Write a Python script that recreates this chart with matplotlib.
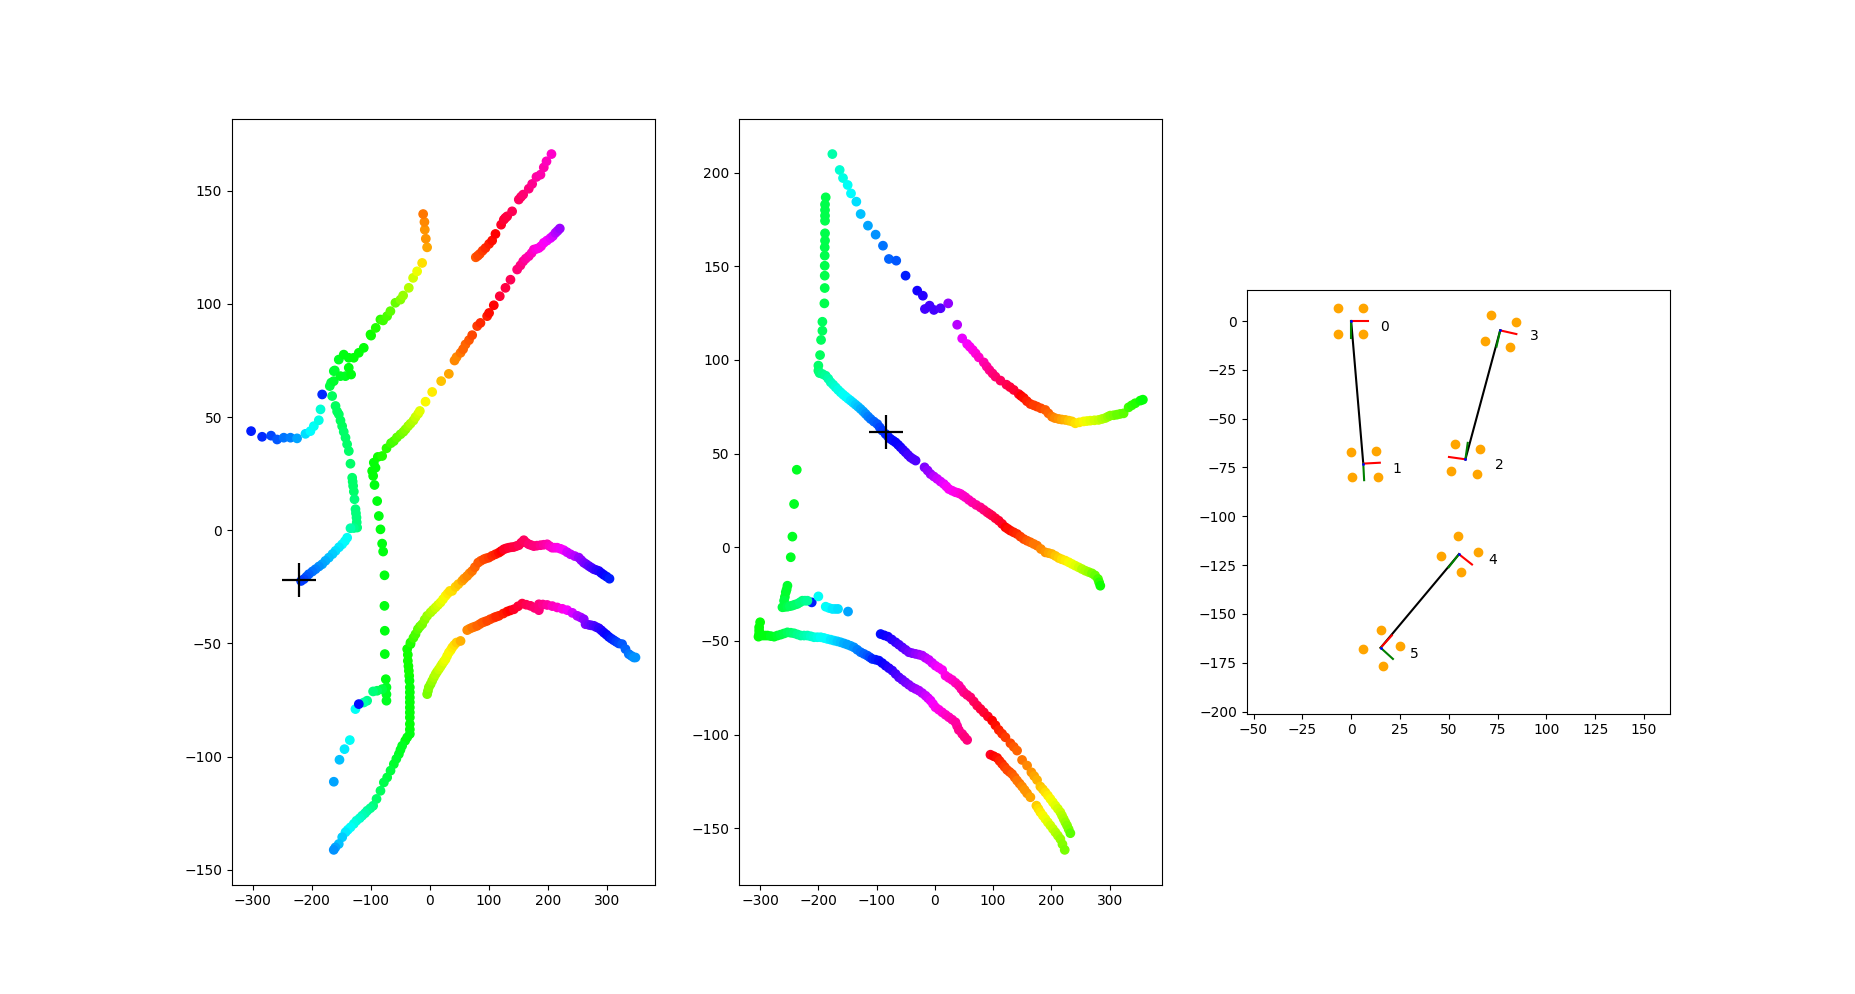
import numpy as np
import matplotlib
matplotlib.use("Agg")
import matplotlib.pyplot as plt

# ---- left panel: tracks as (x, y, hue) ----
LEFT_A = [(-302.8, 43.8, 0.66), (-284.2, 41.3, 0.65), (-269, 41.8, 0.63), (-258.8, 40.1, 0.62),
          (-247.5, 40.9, 0.6), (-236.2, 40.9, 0.59), (-225, 40.6, 0.57), (-210.8, 42.6, 0.53),
          (-202.4, 43.8, 0.51), (-196.6, 46, 0.5), (-188.2, 48.6, 0.49), (-185.3, 53.4, 0.48),
          (-182.5, 60.0, 0.65)]
LEFT_B = [(-165.6, 59.3, 0.4), (-159.9, 54.9, 0.4), (-157.2, 52.5, 0.4), (-154.3, 51.2, 0.4),
          (-151.5, 48.5, 0.4), (-148.7, 46, 0.4), (-146, 43.5, 0.41), (-143, 40.9, 0.41),
          (-140.3, 38, 0.41), (-137.4, 35, 0.41), (-134.6, 29.4, 0.41), (-131.7, 23.2, 0.41),
          (-130.9, 21.5, 0.41), (-130.1, 19.6, 0.41), (-128.9, 17.1, 0.41), (-127.8, 13.7, 0.42),
          (-126.1, 9.3, 0.42), (-125.3, 7.5, 0.42), (-124.4, 5.6, 0.42), (-124, 3.5, 0.42),
          (-123.3, 1.2, 0.42), (-129, 1.0, 0.43), (-134.6, 0.9, 0.45), (-140.2, -3.3, 0.5),
          (-144, -4.8, 0.5), (-148.7, -6.2, 0.51), (-154, -7.5, 0.52), (-159.9, -9.1, 0.53),
          (-165, -10.5, 0.54), (-171.2, -12.1, 0.55), (-177, -13.5, 0.56), (-182.5, -15, 0.57),
          (-188, -16, 0.58), (-193.8, -17.2, 0.59), (-199, -18.2, 0.6), (-205.1, -19.4, 0.61),
          (-209, -20.5, 0.62), (-213.6, -21.6, 0.63), (-218.2, -22.4, 0.64)]
LEFT_C = [(-169.6, 63.7, 0.38), (-167.3, 65.2, 0.38), (-162.9, 65.9, 0.37), (-162.8, 70.3, 0.37),
          (-161.2, 70.6, 0.37), (-151.6, 68.1, 0.36), (-143.1, 68.1, 0.36), (-133.5, 68.8, 0.35),
          (-137.5, 71.8, 0.35), (-154.4, 75.4, 0.36), (-146, 77.6, 0.35), (-137.5, 76.2, 0.35),
          (-129, 76.2, 0.34), (-120.5, 78.4, 0.34), (-112.1, 80.6, 0.34), (-100.7, 86.5, 0.33),
          (-99.7, 86, 0.33), (-91.8, 89.4, 0.32), (-83.9, 93.1, 0.31), (-79.4, 92.7, 0.3),
          (-72.6, 94.6, 0.29), (-67, 96.8, 0.28), (-58.5, 100.5, 0.27), (-50, 101.9, 0.25),
          (-45.5, 103.7, 0.24), (-35.9, 107.1, 0.22), (-28.6, 111.5, 0.2), (-21.8, 114.4, 0.18),
          (-13.3, 118.1, 0.15), (-4.9, 125, 0.11), (-7.1, 128.8, 0.1), (-8.8, 132.8, 0.1),
          (-9.4, 136.2, 0.09), (-11.6, 139.7, 0.08)]
LEFT_D = [(-95.1, 29.9, 0.34), (-97.9, 26.2, 0.34), (-92.2, 27.6, 0.34), (-96.2, 24, 0.34),
          (-93.9, 20, 0.35), (-89.4, 12.9, 0.35), (-86.6, 6.3, 0.35), (-83.8, 0.4, 0.35),
          (-81, -5.9, 0.35), (-79.3, -9.4, 0.35), (-77, -19.9, 0.35), (-77.1, -33.4, 0.35),
          (-76.5, -44.4, 0.35), (-76.5, -54.7, 0.35), (-74.8, -65.8, 0.35), (-73.7, -69.4, 0.36),
          (-73.7, -72.5, 0.36), (-73.7, -75.3, 0.36), (-81, -70.2, 0.38), (-89.5, -70.9, 0.4),
          (-96.3, -71.2, 0.42), (-106.4, -75.3, 0.43), (-112.1, -76.1, 0.45),
          (-126.2, -79, 0.5), (-120.5, -76.8, 0.67)]
LEFT_E = [(-88.3, 32.4, 0.33), (-81, 32.8, 0.32), (-73.6, 36.2, 0.31), (-66, 38.5, 0.3),
          (-61.2, 39.4, 0.29), (-56, 41, 0.28), (-49.9, 42.4, 0.27), (-45, 43.5, 0.26),
          (-41.4, 44.6, 0.25), (-37, 46, 0.24), (-33, 47.1, 0.23), (-28, 48.5, 0.22),
          (-24.5, 50, 0.21), (-20, 51.5, 0.2), (-17.2, 52.7, 0.19), (-7.6, 56.8, 0.17),
          (3.7, 61.1, 0.16), (18.9, 65.9, 0.13), (31.9, 69.1, 0.11), (41.5, 75, 0.09),
          (45, 76.5, 0.09), (51.7, 78.4, 0.08), (56, 80, 0.07), (60.1, 82.1, 0.07),
          (66, 84, 0.06), (71.4, 86.2, 0.05), (79.8, 90.2, 0.04), (85.4, 91.6, 0.03),
          (96.7, 94.6, 0.02), (100, 96, 0.01), (108, 99.4, 0.0), (118.1, 103.4, 0.98),
          (127.7, 107.1, 0.97), (136.2, 110.7, 0.96), (147.5, 115.2, 0.94), (153, 117, 0.93),
          (157.7, 118.8, 0.92), (162, 120, 0.91), (167.2, 121.1, 0.9), (172, 122.5, 0.89),
          (175.7, 124, 0.88), (180, 124.3, 0.87), (184.2, 124.7, 0.86), (188, 125.5, 0.86),
          (192.6, 127, 0.85), (198, 128, 0.84), (203.9, 129.1, 0.83), (208, 130, 0.82),
          (212.4, 131.4, 0.8), (216, 132.3, 0.79), (219.7, 133.3, 0.78)]
LEFT_F = [(77.5, 120.6, 0.06), (81, 121.3, 0.05), (84.3, 122.1, 0.05), (89, 123.5, 0.04),
          (93.9, 124.7, 0.03), (100, 126.5, 0.02), (105.2, 128, 0.01), (110.8, 130.9, 0.0),
          (120.4, 135, 0.99), (124.9, 137.2, 0.98), (127.5, 138, 0.98), (130.6, 138.7, 0.97),
          (139, 140.9, 0.96), (150.3, 146.1, 0.95), (154, 147.3, 0.95), (157.7, 148.3, 0.94),
          (167.2, 150.9, 0.93), (172.9, 153, 0.92), (180.2, 156.1, 0.91), (187, 157.1, 0.9),
          (192.6, 160.3, 0.9), (197.2, 163, 0.89), (205.6, 166.2, 0.88)]
LEFT_G = [(-33, -50.3, 0.33), (-38.6, -52.5, 0.33), (-37.5, -55, 0.33), (-37.5, -57.7, 0.33),
          (-36.5, -60, 0.33), (-35.8, -62.1, 0.33), (-35.2, -64.3, 0.33), (-34.7, -66.5, 0.34),
          (-34.1, -69.4, 0.34), (-34.1, -71.6, 0.34), (-34.1, -73.9, 0.34), (-34.1, -76, 0.34),
          (-34.1, -78.3, 0.34), (-34.1, -80.5, 0.34), (-34.1, -82.7, 0.34), (-34.1, -85.6, 0.34),
          (-34.1, -88, 0.34), (-34.1, -90, 0.35), (-38.6, -91.5, 0.35), (-42, -93, 0.35),
          (-47.1, -95.2, 0.36), (-50, -97, 0.36), (-52.7, -98.9, 0.36), (-57, -101, 0.37),
          (-61.2, -103.3, 0.37), (-66.8, -106.2, 0.38), (-72.5, -109.2, 0.38), (-78.1, -111.4, 0.39),
          (-83.8, -115.1, 0.4), (-90.5, -118.7, 0.41), (-96.2, -121.7, 0.42), (-101, -122.8, 0.43),
          (-106.3, -123.9, 0.44), (-110, -125, 0.45), (-114.8, -126.1, 0.46), (-119, -127.2, 0.47),
          (-124.4, -128.3, 0.48), (-129, -129.7, 0.49), (-134.5, -131.2, 0.5), (-139, -132.3, 0.51),
          (-143, -133.4, 0.52), (-148.6, -135.6, 0.54), (-154.4, -138.6, 0.55), (-160.1, -140.1, 0.57),
          (-162.9, -141.2, 0.58)]
LEFT_DOTS = [(-135.7, -92.7, 0.5), (-144.7, -96.7, 0.52), (-153.2, -101.4, 0.55), (-162.8, -111.1, 0.57)]
LEFT_H = [(-33, -49.6, 0.32), (-28, -47.5, 0.3), (-24.5, -45.9, 0.29), (-20.5, -43.7, 0.28),
          (-17, -42.5, 0.27), (-13.2, -41.5, 0.26), (-9, -39.5, 0.25), (-4.8, -37.8, 0.24),
          (0.9, -36.3, 0.23), (5, -35.2, 0.22), (9.4, -34.1, 0.21), (13.5, -33, 0.2),
          (17.8, -31.9, 0.19), (22, -30.5, 0.18), (26.3, -29, 0.17), (30, -27.9, 0.16),
          (33.6, -26.8, 0.15), (37.5, -26.8, 0.15), (43.2, -25, 0.14), (48, -23.8, 0.13),
          (54.5, -22.3, 0.11), (58, -21.3, 0.1), (62.9, -20.2, 0.09), (67, -19, 0.09),
          (71.3, -18, 0.08), (76, -16.3, 0.07), (81.5, -14.3, 0.06), (86, -13.5, 0.06),
          (91.1, -12.8, 0.05), (95, -12.4, 0.05), (99.5, -12.1, 0.04), (105, -11.3, 0.03),
          (110.8, -10.6, 0.02), (116.5, -9.9, 0.01), (120.5, -9.2, 0.0), (124.9, -8.4, 0.99),
          (129, -8, 0.99), (133.4, -7.7, 0.98), (137.5, -7.5, 0.98), (141.8, -7.4, 0.97),
          (146, -7, 0.97), (150.3, -6.6, 0.96), (154.5, -5.5, 0.96), (158.8, -4.4, 0.95),
          (163, -5.5, 0.95), (167.2, -6.2, 0.94), (171.5, -6.6, 0.94), (175.7, -7, 0.93),
          (181, -6.8, 0.93), (187, -6.6, 0.92), (192.6, -6.4, 0.91), (198.3, -6.2, 0.9),
          (202.5, -7, 0.89), (206.7, -7.7, 0.88), (211, -7.7, 0.87), (215.2, -7.7, 0.86),
          (221, -8.2, 0.85), (226.5, -8.8, 0.84), (232, -9.7, 0.82), (237.8, -10.6, 0.81),
          (245, -11.4, 0.8), (251.9, -12.1, 0.78), (256, -13.2, 0.77), (260.3, -14.3, 0.76),
          (264.5, -15, 0.75), (268.8, -15.8, 0.74), (273, -16.5, 0.73), (277.3, -17.2, 0.72),
          (281.5, -17.6, 0.71), (285.8, -18, 0.7), (290, -18.9, 0.69), (294.2, -19.7, 0.68),
          (299, -20.5, 0.67), (303.8, -21.4, 0.66)]
LEFT_I = [(-4.8, -72.4, 0.26), (-3.5, -71, 0.26), (-2, -69.4, 0.25), (1, -68, 0.25),
          (3.7, -66.5, 0.24), (6.5, -65, 0.23), (9.4, -63.6, 0.22), (12, -62.5, 0.22),
          (15, -61.4, 0.21), (18, -60.2, 0.2), (20.6, -59.1, 0.2), (23.5, -58, 0.19),
          (26.3, -57, 0.18), (29, -55.5, 0.18), (32, -54, 0.17), (35, -53, 0.17),
          (37.6, -51.8, 0.16), (41, -50.7, 0.15), (44.9, -49.6, 0.14), (51.7, -48.9, 0.12),
          (63, -44.1, 0.09), (67, -43.5, 0.09), (71.4, -43, 0.08), (75.5, -42.6, 0.08),
          (79.9, -42.2, 0.07), (84, -41.5, 0.07), (88.4, -40.8, 0.06), (92.5, -40.4, 0.06),
          (96.8, -40, 0.05), (102, -39.3, 0.05), (108.1, -38.6, 0.04), (112, -38.2, 0.03),
          (116.6, -37.8, 0.03), (124, -36.8, 0.02), (130.7, -35.9, 0.01), (136, -35.4, 0.0),
          (142, -34.9, 0.99), (149, -33.6, 0.98), (156.1, -32.4, 0.97), (163, -32.9, 0.96),
          (170.2, -33.4, 0.95), (177, -34.3, 0.94), (184.3, -35.3, 0.93), (184.3, -32.7, 0.93),
          (191, -32.8, 0.92), (198.4, -33, 0.91), (207, -33.5, 0.89), (215.3, -34.1, 0.88),
          (224, -34.7, 0.86), (232.3, -35.3, 0.84), (241, -36.5, 0.82), (249.2, -37.8, 0.8),
          (255, -38.5, 0.79), (260.3, -39.3, 0.77), (263.3, -41.5, 0.76), (268.8, -41.8, 0.75),
          (273, -42, 0.74), (277.3, -42.2, 0.73), (281.5, -42.8, 0.72), (285.8, -43.3, 0.71),
          (290, -44.2, 0.7), (294.2, -45.2, 0.69), (298.5, -46.1, 0.68), (302.7, -47.1, 0.67),
          (307, -47.9, 0.66), (311.1, -48.6, 0.65), (315.3, -49.3, 0.64), (319.6, -50, 0.63),
          (325.2, -50.3, 0.62), (330.9, -52.5, 0.61), (336.5, -54.7, 0.6), (341, -55.5, 0.59),
          (345, -56.2, 0.58), (347.8, -56.2, 0.58)]
LEFT_CROSS = (-221, -21.9)

# ---- middle panel ----
MID_1 = [(-176, 209.9, 0.45), (-163.4, 201.4, 0.48), (-157.7, 197.1, 0.49), (-149.7, 193.4, 0.5),
         (-144, 188.9, 0.51), (-134.8, 184.5, 0.53), (-127.4, 177.9, 0.55), (-114.9, 171.7, 0.57),
         (-101.7, 166.9, 0.58), (-89.1, 161, 0.6), (-78.9, 153.9, 0.61), (-66.3, 153, 0.62),
         (-50.3, 145, 0.66), (-30.3, 137, 0.69), (-20.6, 134.3, 0.7), (-17.1, 127.2, 0.72),
         (-9.1, 129, 0.72), (-1.7, 126.7, 0.72), (9.7, 127.6, 0.73), (22.9, 130.2, 0.77),
         (38.3, 118.8, 0.8), (46.9, 111.5, 0.83), (55.4, 108.5, 0.84), (60, 107, 0.85),
         (65.1, 105.3, 0.86), (70, 103.5, 0.87), (75.4, 101.4, 0.88), (84, 98.7, 0.9),
         (89, 96.5, 0.91), (93.7, 94.6, 0.92), (99, 92.8, 0.93), (104, 91.1, 0.94),
         (112.6, 89, 0.95), (122.9, 86.8, 0.96), (129, 85.5, 0.97), (135.4, 84, 0.98),
         (144, 81.8, 0.99), (148, 80.8, 0.0), (152.6, 79.7, 0.01), (158, 78, 0.02),
         (164, 76.5, 0.03), (170, 75.8, 0.04), (175.4, 75.1, 0.04), (182, 74.2, 0.05),
         (189.7, 73.3, 0.06), (195, 71.5, 0.07), (201.1, 69.7, 0.08), (206, 69, 0.09),
         (212.6, 68.5, 0.1), (218, 68.2, 0.11), (224, 68, 0.12), (230, 67.6, 0.13),
         (235.4, 67.2, 0.14), (241.1, 66.2, 0.15), (248, 66.7, 0.16), (255.4, 67.2, 0.17),
         (261, 67.4, 0.18), (266.9, 67.6, 0.19), (274, 67.8, 0.2), (281.1, 68, 0.21),
         (287, 68.5, 0.22), (292.6, 69, 0.23), (297, 69.7, 0.24), (301.1, 70.3, 0.25),
         (307, 70.5, 0.26), (312.6, 70.8, 0.27), (318, 71.2, 0.27), (324, 71.5, 0.28),
         (332.6, 74.7, 0.3), (338, 75.8, 0.31), (344, 76.9, 0.32), (352.6, 78.3, 0.33),
         (357.1, 78.8, 0.34)]
MID_2 = [(-187.4, 186.8, 0.39), (-188.6, 183, 0.39), (-188.6, 180, 0.39), (-188.6, 177, 0.39),
         (-188.6, 174.3, 0.39), (-188.6, 167.6, 0.39), (-188.6, 163.7, 0.39), (-189.1, 160.1, 0.39),
         (-189.1, 155.7, 0.39), (-189.1, 150.3, 0.39), (-189.1, 145, 0.39), (-189.1, 138.4, 0.39),
         (-189.7, 130.2, 0.39), (-193.1, 120.4, 0.4), (-193.1, 115.6, 0.4), (-195.4, 110.7, 0.4),
         (-197.1, 102.6, 0.4), (-200, 97, 0.41), (-200, 94.3, 0.41), (-198, 93, 0.42),
         (-193, 92.5, 0.43), (-187.4, 91.6, 0.44), (-183, 90, 0.45), (-178.8, 88.1, 0.46),
         (-174.5, 86.8, 0.47), (-170.3, 85.4, 0.48), (-166, 84, 0.49), (-161.7, 82.7, 0.49),
         (-157.4, 81.5, 0.5), (-153.1, 80.4, 0.5), (-148.8, 79.3, 0.51), (-144.6, 78.3, 0.52),
         (-140.3, 77.2, 0.53), (-136, 76.1, 0.54), (-131.7, 75, 0.55), (-127.4, 73.8, 0.56),
         (-123, 72.5, 0.57), (-118.9, 71.2, 0.58), (-114.6, 69.8, 0.59), (-110.3, 68.5, 0.6),
         (-104.6, 67.1, 0.61), (-98.9, 65.8, 0.62), (-94.6, 64, 0.63), (-90.3, 62.3, 0.64),
         (-84.6, 60.5, 0.65), (-80.3, 59.1, 0.66), (-76, 57.8, 0.67), (-71.7, 56.9, 0.67),
         (-67.4, 56, 0.68), (-63, 54.7, 0.68), (-58.9, 53.4, 0.69), (-54.6, 52, 0.7),
         (-50.3, 50.7, 0.71), (-46, 49.3, 0.72), (-41.7, 48, 0.72), (-37.4, 47.1, 0.73),
         (-33.1, 46.3, 0.73), (-17.7, 42.7, 0.76), (-12.5, 41, 0.77), (-7.4, 39.1, 0.78),
         (-1.7, 37.8, 0.8), (4, 36.5, 0.81), (9.7, 35.1, 0.82), (15.4, 33.8, 0.83),
         (19.7, 32.5, 0.84), (24, 31.1, 0.85), (29.7, 30.2, 0.85), (35.4, 29.4, 0.86),
         (40, 29, 0.86), (44, 28.5, 0.87), (48.3, 27.6, 0.88), (52.6, 26.7, 0.88),
         (58.3, 25.3, 0.89), (64, 24, 0.9), (71, 22.6, 0.91), (78.3, 21.3, 0.92),
         (84, 20, 0.93), (89.7, 18.7, 0.94), (94, 17.8, 0.95), (98.3, 16.9, 0.96),
         (104, 15.5, 0.97), (109.7, 14.2, 0.98), (115.4, 12.5, 0.99), (121.1, 10.7, 0.0),
         (125.4, 9.8, 0.01), (129.7, 8.9, 0.01), (135.4, 8, 0.02), (141.1, 7.1, 0.03),
         (146.8, 5.7, 0.04), (152.6, 4.4, 0.05), (158.3, 3.5, 0.06), (164, 2.7, 0.07),
         (169.7, 1.8, 0.08), (175.4, 0.9, 0.08), (182, -0.9, 0.09), (189.7, -2.7, 0.1),
         (195.4, -3.1, 0.11), (201.1, -3.6, 0.12), (207, -4.6, 0.13), (212.6, -5.7, 0.14),
         (218, -6.4, 0.15), (224, -7.1, 0.16), (230, -8, 0.17), (235.4, -8.9, 0.18),
         (241, -9.8, 0.19), (246.9, -10.7, 0.2), (252.6, -11.6, 0.22), (258.3, -12.5, 0.23),
         (264, -13.2, 0.24), (269.7, -13.9, 0.26), (275, -15, 0.27), (280, -16.9, 0.29),
         (282, -18.7, 0.31), (284, -20.5, 0.33)]
MID_3 = [(-237.1, 41.4, 0.36), (-241.7, 23.1, 0.36), (-244.6, 5.7, 0.36), (-247.4, -5.3, 0.36),
         (-253.1, -20.5, 0.37), (-254.5, -22.5, 0.37), (-256, -24, 0.37), (-257.5, -26.5, 0.37),
         (-258.9, -28.5, 0.38), (-261.7, -32, 0.38), (-211.4, -29.4, 0.66), (-258, -31.8, 0.38),
         (-253.1, -31.7, 0.39), (-248.8, -31.4, 0.4), (-244.6, -31.1, 0.4), (-240.3, -30.6, 0.41),
         (-236, -30.2, 0.41), (-231.7, -29.4, 0.42), (-227.4, -28.5, 0.42), (-223, -28.5, 0.43),
         (-218.8, -28.5, 0.44), (-200, -26.2, 0.5), (-187.4, -31.7, 0.5), (-181.7, -32.4, 0.51),
         (-176, -32.9, 0.52), (-171, -32.9, 0.52), (-166.3, -32.9, 0.53), (-149.1, -34.3, 0.57)]
MID_4 = [(-300, -40, 0.34), (-301.7, -42.7, 0.34), (-301.7, -44.5, 0.34), (-301.7, -46.3, 0.34),
         (-302.8, -47.7, 0.34), (-296, -47.1, 0.35), (-291.7, -47.1, 0.35), (-287.4, -47.1, 0.35),
         (-281.7, -47.4, 0.36), (-276, -47.7, 0.36), (-270.3, -47.1, 0.37), (-264.6, -46.6, 0.38),
         (-259, -46, 0.39), (-253.1, -45.4, 0.4), (-247.4, -45.6, 0.41), (-241.7, -45.9, 0.42),
         (-236, -46.5, 0.43), (-230.3, -47.1, 0.44), (-224.5, -47.1, 0.45), (-218.8, -47.1, 0.46),
         (-213, -47.5, 0.47), (-207.4, -48, 0.48), (-201.7, -48, 0.49), (-196, -48, 0.5),
         (-190.3, -48.4, 0.5), (-184.6, -48.9, 0.51), (-178.8, -49.3, 0.52), (-173.1, -49.8, 0.53),
         (-167.4, -50.2, 0.54), (-161.7, -50.7, 0.55), (-156, -51.3, 0.56), (-150.3, -51.9, 0.57),
         (-144.6, -52.6, 0.57), (-138.9, -53.4, 0.58), (-133.2, -54.7, 0.59), (-127.4, -56, 0.6),
         (-121.7, -56.9, 0.61), (-116, -57.8, 0.62), (-111.7, -58.7, 0.63), (-107.4, -59.6, 0.65),
         (-101.7, -60, 0.66), (-96, -60.5, 0.67), (-90.3, -61.8, 0.68), (-84.6, -63.2, 0.69),
         (-78.9, -64.5, 0.7), (-73.1, -65.8, 0.71), (-67.4, -67.6, 0.72), (-61.7, -69.4, 0.73),
         (-56, -70.7, 0.74), (-50.3, -72.1, 0.75), (-44.6, -73.4, 0.76), (-38.9, -74.7, 0.77),
         (-33.1, -75.6, 0.78), (-27.4, -76.5, 0.79), (-21.7, -77.8, 0.8), (-16, -79.2, 0.81),
         (-11.7, -80.5, 0.82), (-7.4, -81.8, 0.83), (-3.2, -83.6, 0.84), (1.1, -85.4, 0.85),
         (6.8, -86.7, 0.86), (12.6, -88.1, 0.87), (18.3, -89.4, 0.88), (24, -90.7, 0.89),
         (29.7, -92, 0.9), (35.4, -93.4, 0.91), (38.2, -95.4, 0.91), (41.1, -97.5, 0.92),
         (46.9, -99.6, 0.92), (51, -101.2, 0.93), (55.4, -102.8, 0.93)]
MID_5 = [(-93.1, -46.3, 0.67), (-86.9, -47, 0.68), (-80.6, -47.7, 0.69), (-74, -49.2, 0.7),
         (-67.4, -50.7, 0.71), (-61.7, -52, 0.72), (-56, -53.4, 0.73), (-50.3, -54.7, 0.74),
         (-44.6, -56, 0.75), (-38.9, -56.5, 0.76), (-33.1, -56.9, 0.77), (-27.4, -57.3, 0.78),
         (-21.7, -57.8, 0.79), (-16, -59, 0.8), (-10.3, -60.1, 0.81), (-4.6, -61.7, 0.82),
         (1.1, -63.2, 0.83), (6.8, -64.3, 0.84), (12.6, -65.5, 0.85), (18.3, -68.5, 0.86),
         (24, -69.7, 0.87), (29.7, -70.8, 0.88), (35.4, -72.3, 0.89), (41.1, -73.8, 0.9),
         (45.4, -75.6, 0.91), (49.7, -77.4, 0.92), (55.4, -78.8, 0.93), (61.1, -80.1, 0.94),
         (66.8, -82.3, 0.95), (72.6, -84.5, 0.96), (78.3, -86.3, 0.97), (84, -88.1, 0.98),
         (91, -90.3, 0.99), (98.3, -92.5, 0.0), (104, -95, 0.01), (109.7, -97.5, 0.02),
         (115.4, -99.5, 0.03), (121.1, -101.4, 0.04), (129.7, -104.6, 0.05), (135.4, -106.5, 0.06),
         (141.1, -108.5, 0.07), (149.7, -113.5, 0.08), (158.3, -116.5, 0.09), (165.7, -120.1, 0.1),
         (170.5, -122.1, 0.11), (175.4, -124.2, 0.12), (181.1, -127.7, 0.13), (185.4, -129.2, 0.14),
         (189.7, -130.8, 0.15), (194, -132.5, 0.16), (198.3, -134.3, 0.17), (202.6, -136.1, 0.18),
         (206.9, -137.9, 0.19), (211.2, -139.6, 0.2), (215.4, -141.4, 0.21), (218.3, -143.2, 0.22),
         (221.1, -145, 0.23), (224, -146.8, 0.24), (226.9, -148.5, 0.25), (229.7, -150.5, 0.26),
         (232.6, -152.6, 0.28)]
MID_6 = [(95.4, -110.7, 0.99), (101, -111.5, 0.0), (106.9, -112.4, 0.01), (111, -114, 0.02),
         (115.4, -115.6, 0.03), (119.7, -117.2, 0.04), (124, -118.8, 0.05), (128.3, -119.9, 0.05),
         (132.6, -121, 0.06), (137, -122.8, 0.07), (141.1, -124.5, 0.08), (145.4, -126.1, 0.08),
         (149.7, -127.7, 0.09), (154, -129.5, 0.1), (158.3, -131.3, 0.1), (164, -133.4, 0.11),
         (174.3, -137.9, 0.14), (177.7, -139.6, 0.15), (181.1, -141.4, 0.16), (185.4, -143.2, 0.17),
         (189.7, -145, 0.18), (194, -146.8, 0.19), (198.3, -148.5, 0.2), (202.6, -150.3, 0.21),
         (206.9, -152.1, 0.22), (211.2, -153.9, 0.23), (215.4, -155.7, 0.24), (219, -158.5, 0.25),
         (222.9, -161.5, 0.26)]
MID_CROSS = (-84.6, 61.7)

# ---- right panel: frames, headings (deg) and foot points ----
FRAME_X = [0, 6.2, 58.5, 76.3, 55.2, 15.1]
FRAME_Y = [0, -73.0, -70.8, -4.8, -119.4, -167.3]
FRAME_HEADING = [0, 3, 172, -12.7, -38.3, 47.7]
LINKS = [(0, 1), (3, 2), (4, 5)]
FEET_X = [-6.7, 6.2, -6.7, 6.2, -0.3, 12.5, 0.2, 13.5, 53.2, 66, 51.1, 64.5,
          71.7, 84.5, 68.6, 81.5, 54.7, 64.8, 46, 56.3, 15.1, 24.9, 6.2, 16.5]
FEET_Y = [6.8, 6.8, -6.5, -6.5, -67, -66.5, -80.1, -79.8, -63.1, -65.3, -76.6, -78.1,
          2.9, -0.3, -10.1, -13.1, -110.3, -118.5, -120.5, -128.7, -158.2, -166.4, -168.1, -176.6]
AXIS_LEN = 8.5


def draw_tracks(ax, tracks):
    for tr in tracks:
        xs, ys, hs = zip(*tr)
        ax.scatter(xs, ys, c=hs, cmap="hsv", vmin=0, vmax=1)


fig, (ax1, ax2, ax3) = plt.subplots(1, 3, figsize=(18.55, 9.94))

draw_tracks(ax1, [LEFT_A, LEFT_B, LEFT_C, LEFT_D, LEFT_E, LEFT_F, LEFT_G, LEFT_DOTS, LEFT_H, LEFT_I])
ax1.plot(*LEFT_CROSS, "+", color="black", ms=24, mew=1.6)

draw_tracks(ax2, [MID_1, MID_2, MID_3, MID_4, MID_5, MID_6])
ax2.plot(*MID_CROSS, "+", color="black", ms=24, mew=1.6)

ax3.scatter(FEET_X, FEET_Y, color="orange")
for a, b in LINKS:
    ax3.plot([FRAME_X[a], FRAME_X[b]], [FRAME_Y[a], FRAME_Y[b]], color="black")
for i, (cx, cy, hd) in enumerate(zip(FRAME_X, FRAME_Y, FRAME_HEADING)):
    t = np.deg2rad(hd)
    ax3.plot([cx, cx + AXIS_LEN * np.cos(t)], [cy, cy + AXIS_LEN * np.sin(t)], color="red")
    ax3.plot([cx, cx + AXIS_LEN * np.sin(t)], [cy, cy - AXIS_LEN * np.cos(t)], color="green")
    ax3.plot(cx, cy, ".", color="blue", ms=2)
    ax3.text(cx + 15, cy - 3, str(i), va="center")
ax3.set_xlim(-53.5, 163)
ax3.set_ylim(-201, 15.7)
ax3.set_aspect("equal")

fig.savefig("out.png", dpi=100)
